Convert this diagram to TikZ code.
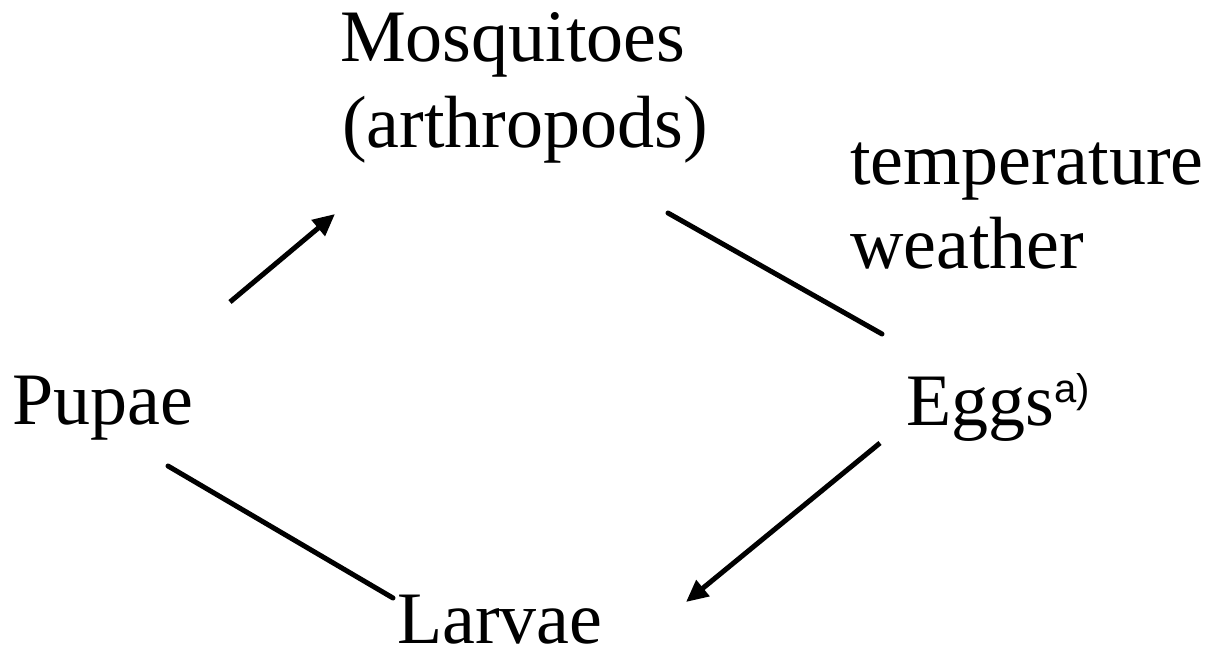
\documentclass[tikz,border=0pt]{standalone}
\usepackage{fontspec}
\setmainfont{Liberation Serif}
\newfontfamily\supfont{Liberation Sans}
\usetikzlibrary{arrows.meta}
\begin{document}
\begin{tikzpicture}[x=1pt,y=-1pt,
  lbl/.style={anchor=base west,inner sep=0pt,font=\fontsize{74}{80}\selectfont},
  conn/.style={line width=5pt,line cap=round},
  arr/.style={line width=5pt,-{Triangle[length=22pt,width=20pt]}}]
\useasboundingbox (0,0) rectangle (1216,658);
\node[lbl] (mos) at (340,62) {Mosquitoes};
\node[lbl] (arth) at (342,148) {(arthropods)};
\node[lbl] (temp) at (850,185) {temperature};
\node[lbl] (weat) at (850,268) {weather};
\node[lbl] (pup) at (12,424) {Pupae};
\node[lbl] (egg) at (906,425) {Eggs\raisebox{23pt}{\supfont\fontsize{40}{44}\selectfont a)}};
\node[lbl] (lar) at (397,643) {Larvae};
\coordinate (p1) at (230,302);
\coordinate (m1) at (335,214);
\coordinate (m2) at (668,213);
\coordinate (e1) at (882,334);
\coordinate (e2) at (880,443);
\coordinate (l1) at (686,602);
\coordinate (p2) at (168,466);
\coordinate (l2) at (393,598);
\draw[arr] (p1) -- (m1);
\draw[conn] (m2) -- (e1);
\draw[arr] (e2) -- (l1);
\draw[conn] (p2) -- (l2);
\end{tikzpicture}
\end{document}
